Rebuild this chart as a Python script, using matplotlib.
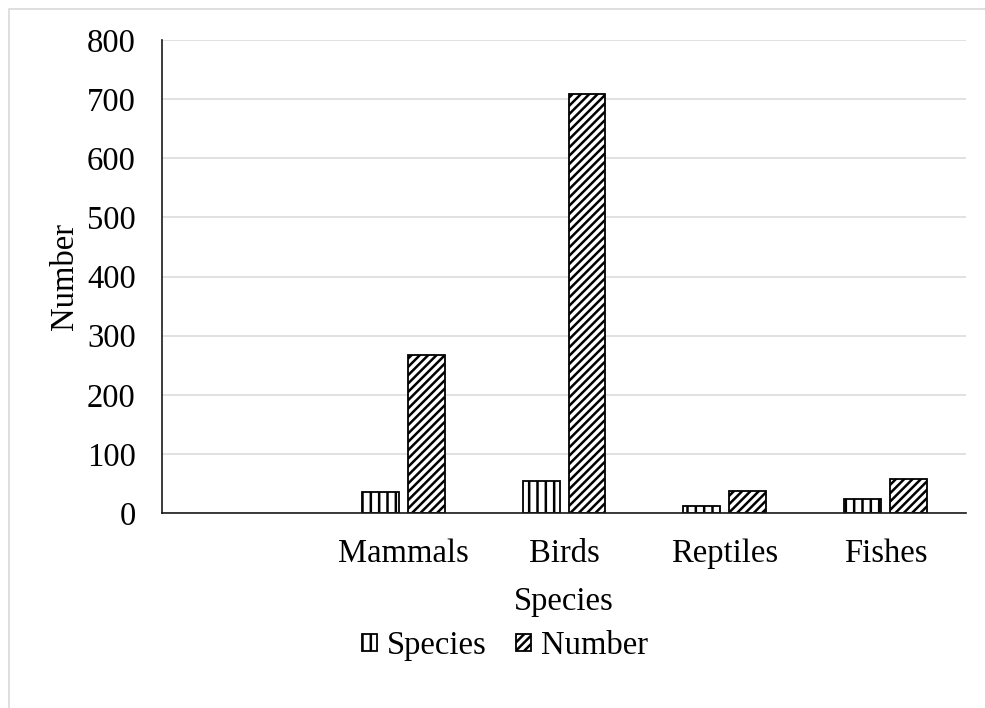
import matplotlib.pyplot as plt
import numpy as np
from matplotlib.lines import Line2D

categories = ["Mammals", "Birds", "Reptiles", "Fishes"]
species = [36, 54, 12, 23]
number = [267, 709, 37, 58]
yticks = [0, 100, 200, 300, 400, 500, 600, 700, 800]

plt.rcParams["font.family"] = ["Liberation Serif", "DejaVu Serif"]
plt.rcParams["hatch.linewidth"] = 1.8
plt.rcParams["hatch.color"] = "black"

fig = plt.figure(figsize=(9.85, 7.08), dpi=100)
ax = fig.add_axes([0.1645, 0.2754, 0.8162, 0.6681])

x = np.arange(len(categories))
w = 0.23
off = 0.143
ax.bar(x - off, species, w, facecolor="white", edgecolor="black",
       linewidth=1.3, hatch="||", label="Species", zorder=3)
ax.bar(x + off, number, w, facecolor="white", edgecolor="black",
       linewidth=1.3, hatch="////", label="Number", zorder=3)

ax.set_xlim(-1.5, 3.5)
ax.set_ylim(0, 800)
ax.set_yticks(yticks)
ax.set_xticks(x)
ax.set_xticklabels(categories)
ax.tick_params(axis="both", length=0, labelsize=23.5)
ax.tick_params(axis="x", pad=18)
ax.tick_params(axis="y", pad=19)
ax.yaxis.grid(True, color="#d9d9d9", linewidth=1.1, zorder=0)
ax.set_axisbelow(True)

for s in ["top", "right"]:
    ax.spines[s].set_visible(False)
ax.spines["bottom"].set_color("#1a1a1a")
ax.spines["bottom"].set_linewidth(1.2)
ax.spines["bottom"].set_zorder(4)
ax.spines["left"].set_color("#1a1a1a")
ax.spines["left"].set_linewidth(1.2)

ax.set_xlabel("Species", fontsize=23.5, labelpad=13)
ax.set_ylabel("Number", fontsize=23.5, labelpad=5)

fig.legend(loc="center", bbox_to_anchor=(505 / 985, 1 - 646 / 708),
           ncol=2, frameon=False, fontsize=23.5, handlelength=0.45,
           handleheight=0.45, handletextpad=0.3, columnspacing=0.9)

# outer chart-area border (top and left edges visible)
fig.add_artist(Line2D([9 / 985, 9 / 985, 1.0], [0.0, 1 - 9 / 708, 1 - 9 / 708],
                      color="#d9d9d9", linewidth=1.2, transform=fig.transFigure))

fig.savefig("out.png", dpi=100, facecolor="white")
